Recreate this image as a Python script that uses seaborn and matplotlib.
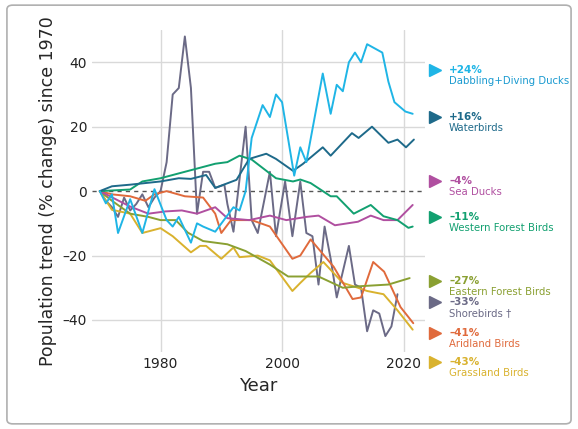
import matplotlib
matplotlib.use("Agg")
import matplotlib.pyplot as plt
import seaborn as sns
import pandas as pd
from matplotlib.patches import FancyBboxPatch

ducks_x = [1970,1971,1972,1973,1975,1977,1979,1981,1982,1983,1985,1986,1987,1989,1992,1993,1994,1995,1996.8,1998,1999,2000,2002,2003,2004,2006.7,2008,2009,2010,2011,2012,2013,2014,2016.5,2017.5,2018.5,2020.3,2021.5]
ducks_y = [0,-3.8,-1,-13,-2.5,-13,0.6,-9,-11,-8,-16,-10,-11,-12.6,-5,-6,0,16.5,26.7,23,30,27.6,4.8,13.6,9,36.5,24,33,31,40,43,40,45.6,43,34,27.6,24.7,24]

water_x = [1970,1972,1975,1980,1983,1985,1987.5,1989,1992.5,1994.6,1997.4,1999,2001.8,2003.4,2006.7,2008,2011.5,2012.6,2014.8,2017.5,2019,2020.4,2021.7]
water_y = [0,1.5,2,3,4,3.8,5,1,3.5,10,11.6,10,6.3,8.4,13.6,11,18,16.5,20,15,16,13.6,16]

west_x = [1970,1975,1977,1980,1983,1986,1989,1991,1993,1995,1999,2001.8,2003,2004.7,2008,2009,2011.8,2014.6,2016.7,2019,2020.8,2021.5]
west_y = [0,0.5,3,4,5.5,7,8.5,9,11,9.8,4,3,3.6,2.5,-1.6,-1.6,-7,-4.3,-7.8,-9,-11.4,-11]

sea_x = [1970,1975,1978,1980.8,1983.5,1986,1989,1991,1994.6,1998,2000.7,2004,2006,2008.7,2012.5,2014.6,2016.7,2019,2021.5]
sea_y = [0,-4.8,-7,-6.3,-6,-7,-5,-8.4,-9,-7.6,-9,-8,-7.6,-10.6,-9.5,-7.6,-9,-9,-4.3]

east_x = [1970,1972,1975,1978,1980,1982.5,1984.5,1987,1991,1994,1998,2001,2006,2010,2013,2017.5,2021]
east_y = [0,-3,-7,-8,-9,-9,-12.9,-15.5,-16.5,-18.6,-22.8,-26.5,-26.5,-30,-29.5,-29,-27]

grass_x = [1970,1972,1975,1977,1980,1982,1985,1986.5,1987.5,1990,1992,1993,1996,1998,2001.7,2003,2004.7,2006.8,2010,2012.5,2014,2016.7,2019,2021.5]
grass_y = [0,-5.8,-7,-13,-11.5,-14,-19,-17,-17,-21,-17.5,-20.5,-20,-21.5,-31,-28.5,-25.4,-22,-28.5,-30,-31,-32,-37,-43]

arid_x = [1970,1972,1975,1977.5,1979,1981,1984,1987,1989,1990,1991.6,1995,1998,2001.7,2003,2004.7,2008.5,2011.6,2013,2015,2016.8,2019.5,2021.6]
arid_y = [0,-1,-1.6,-3,-1,0,-1.6,-2,-7,-13,-9,-9,-11,-21,-20,-15,-23.5,-33.5,-33,-22,-25,-36,-41]

shore_x = [1970,1971,1972,1973,1974,1975,1976,1977,1978,1979,1980,1981,1982,1983,1984,1985,1986,1987,1988,1989,1990.5,1991,1992,1994,1995,1996,1998,1999,2000.5,2001.7,2003,2004,2005,2006,2007,2008,2009,2011,2012,2013,2014,2015,2016,2017,2018,2019]
shore_y = [0,-3,-5,-8,-2,-6,-4,-1,-5,-2,0,9,30,32,48,32,-7,6,6,1,2,-4,-12.6,20,-9,-13,6,-14,3,-14,3,-13,-14,-29,-11,-21,-33,-17,-29,-30,-43.5,-37,-38,-45,-42,-32]

names = ["Dabbling+Diving Ducks","Waterbirds","Sea Ducks","Western Forest Birds",
         "Eastern Forest Birds","Shorebirds","Aridland Birds","Grassland Birds"]
pcts = ["+24%","+16%","\u20134%","\u201311%","\u201327%","\u201333%","\u201341%","\u201343%"]
colors = ["#1fb5e6","#1e6a8a","#b04fa0","#12a070","#8aa032","#6b6a86","#e06a3c","#d9b22e"]
label_y = [34.6,20,0,-11,-31,-37.5,-47,-56]
xs = [ducks_x,water_x,sea_x,west_x,east_x,shore_x,arid_x,grass_x]
ys = [ducks_y,water_y,sea_y,west_y,east_y,shore_y,arid_y,grass_y]

rows = []
for n, x, y in zip(names, xs, ys):
    for a, b in zip(x, y):
        rows.append((n, a, b))
df = pd.DataFrame(rows, columns=["group", "Year", "val"])

sns.set_style("white")
fig = plt.figure(figsize=(5.78, 4.29), dpi=100)
fig.patches.append(FancyBboxPatch((0.012, 0.012), 0.976, 0.976, boxstyle="round,pad=0,rounding_size=0.01",
                                  transform=fig.transFigure, fill=False, ec="#b0b0b0", lw=1.2))
ax = fig.add_axes([0.159, 0.179, 0.576, 0.751])
for yv in [40, 20, -20, -40]:
    ax.axhline(yv, color="#d9d9d9", lw=1, zorder=0)
for xv in [1980, 2000, 2020]:
    ax.axvline(xv, color="#d9d9d9", lw=1, zorder=0)
ax.axhline(0, color="#555555", lw=1, ls=(0, (3, 3)), zorder=0.5)

order = ["Shorebirds","Grassland Birds","Aridland Birds","Eastern Forest Birds","Sea Ducks",
         "Western Forest Birds","Waterbirds","Dabbling+Diving Ducks"]
sns.lineplot(data=df, x="Year", y="val", hue="group", hue_order=order,
             palette=dict(zip(names, colors)), estimator=None, lw=1.4, legend=False, ax=ax, sort=False)

ax.set_xlim(1968.7, 2023.5)
ax.set_ylim(-50, 50)
ax.set_xticks([1980, 2000, 2020])
ax.set_yticks([-40, -20, 0, 20, 40])
ax.set_yticklabels(["\u201340", "\u201320", "0", "20", "40"])
ax.tick_params(labelsize=10, length=0, colors="#222222")
for s in ax.spines.values():
    s.set_visible(False)
ax.set_xlabel("Year", fontsize=13)
ax.set_ylabel("Population trend (% change) since 1970", fontsize=12.5)

for n, p, c, ly in zip(names, pcts, colors, label_y):
    ax.text(2027.5, ly + 1.5, p, color=c, fontsize=7.5, fontweight="bold", ha="left", va="bottom", clip_on=False)
    ax.text(2027.5, ly + 1.2, n + (" \u2020" if n == "Shorebirds" else ""), color=c if n != "Dabbling+Diving Ducks" else "#1a9ad0",
            fontsize=7.3, ha="left", va="top", clip_on=False)
    ax.plot([2025.2], [ly + 3], marker=">", ms=9, color=c, clip_on=False)

fig.savefig("out.png", dpi=100)
